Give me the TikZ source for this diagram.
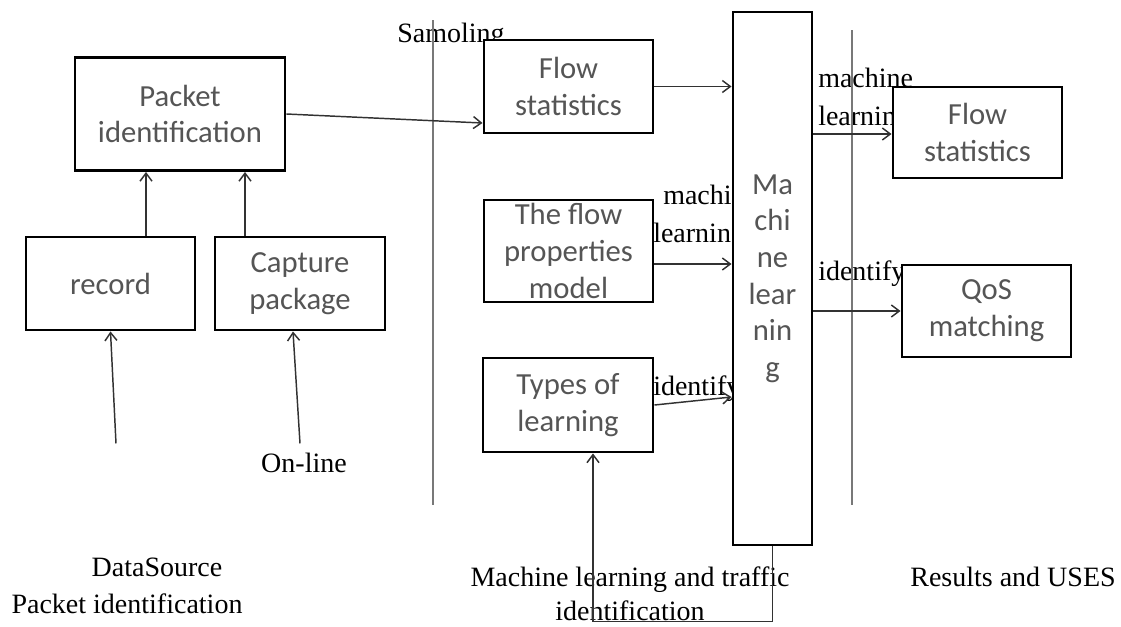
\documentclass[tikz,border=0pt]{standalone}
\usepackage{fontspec}
\setmainfont{Liberation Serif}
\newfontfamily\boxfont{Carlito}
\usetikzlibrary{arrows.meta,calc}

\definecolor{boxtext}{RGB}{85,85,85}
\definecolor{rulegray}{RGB}{120,120,120}
\definecolor{wire}{RGB}{50,50,50}

\begin{document}
\begin{tikzpicture}[x=0.75pt,y=-0.75pt,
  stage/.style={draw=black, line width=2.2pt, fill=white, rectangle, inner sep=0pt,
    align=center, text=boxtext, font=\boxfont\fontsize{23}{27.5}\selectfont},
  conn/.style={draw=wire, line width=1.1pt, -{Straight Barb[length=6pt,width=9pt]}},
  divider/.style={draw=rulegray, line width=1.6pt},
  lbl/.style={inner sep=0pt, text=black, font=\fontsize{21}{28.5}\selectfont},
]
\useasboundingbox (0,0) rectangle (1121,626);

% serif labels (boxes drawn later cover parts of them);
% multi-line labels are placed by the baseline of their last line
\node[lbl, anchor=base west] (samp) at (397,42) {Samoling};
\node[lbl, anchor=base west, align=left] (mlab1) at (653,242) {\hspace*{7.5pt}machine\\learning};
\node[lbl, anchor=base west, align=left] (mlab2) at (818,125) {machine\\learning};
\node[lbl, anchor=base west] (id1) at (653,395) {identify};
\node[lbl, anchor=base west] (id2) at (818,280) {identify};
\node[lbl, anchor=base] (online) at (304,472) {On-line};
\node[lbl, anchor=base] (ds) at (157,576) {DataSource};
\node[lbl, anchor=base] (pi) at (127,613) {Packet identification};
\node[lbl, anchor=base, align=center, font=\fontsize{21}{25.5}\selectfont] (mlt) at (630,620)
  {Machine learning and traffic\\identification};
\node[lbl, anchor=base] (res) at (1013,586) {Results and USES};

% stage dividers
\draw[divider] (433,20) -- (433,505);
\draw[divider] (852,30) -- (852,505);

% boxes
\node[stage, minimum width=157.5pt, minimum height=84.75pt] (pkt) at (180,114) {Packet\\identification};
\node[stage, minimum width=126.75pt, minimum height=69.75pt] (rec) at (110.5,283.5) {record};
\node[stage, minimum width=127.5pt, minimum height=69.75pt] (cap) at (300,283.5) {Capture\\package};
\node[stage, minimum width=126.75pt, minimum height=69.75pt] (fs1) at (568.5,86.5) {Flow\\statistics};
\node[stage, minimum width=126.75pt, minimum height=76.5pt] (fpm) at (568.5,251) {The flow\\properties\\model};
\node[stage, minimum width=127.5pt, minimum height=70.5pt] (tol) at (568,405) {Types of\\learning};
\node[stage, minimum width=59.25pt, minimum height=399.75pt] (ml) at (772.5,278.5) {Ma\\chi\\ne\\lear\\nin\\g};
\node[stage, minimum width=126.75pt, minimum height=68.25pt] (fs2) at (977.5,132.5) {Flow\\statistics};
\node[stage, minimum width=126.75pt, minimum height=69pt] (qos) at (986.5,311) {QoS\\matching};

% connectors
\draw[conn] (pkt.east) -- ($(fs1.west)+(0,36.5)$);
\draw[conn] (fs1.east) -- (fs1.east -| ml.west);
\draw[conn] ($(fpm.east)+(0,13)$) -- ($(ml.west |- fpm.east)+(0,13)$);
\draw[conn] (tol.east) -- ($(ml.west |- tol.east)+(0,-8)$);
\draw[conn] ($(ml.east |- fs2.west)+(0,1.5)$) -- ($(fs2.west)+(0,1.5)$);
\draw[conn] (ml.east |- qos.west) -- (qos.west);
\draw[conn] (ml.south) -- ++(0,75) -| ($(tol.south)+(25,0)$);
\draw[conn] ($(rec.north)+(35.5,0)$) -- ($(pkt.south)+(-34,0)$);
\draw[conn] ($(cap.north)+(-55,0)$) -- ($(pkt.south)+(65,0)$);
\draw[conn] ($(rec.south)+(5.5,112)$) -- (rec.south);
\draw[conn] ($(cap.south)+(0,112)$) -- ($(cap.south)+(-7,0)$);
\end{tikzpicture}
\end{document}
